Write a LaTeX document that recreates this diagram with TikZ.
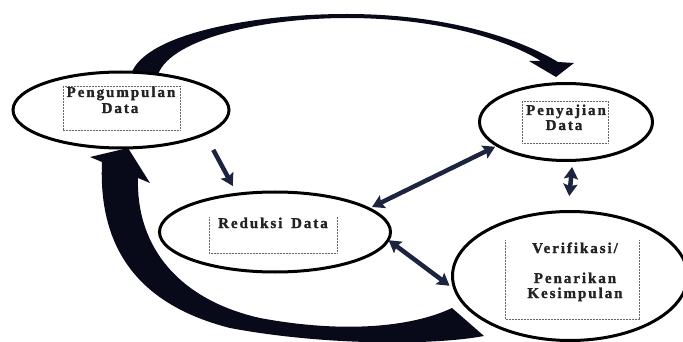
\documentclass[tikz,border=0pt]{standalone}
\usepackage{fontspec}
\newfontfamily\lblfont[LetterSpace=13,FakeBold=1.4]{Liberation Serif Bold}
\usetikzlibrary{arrows.meta,shapes.geometric}
\definecolor{bandc}{RGB}{8,10,25}
\definecolor{arrc}{RGB}{28,36,62}
\definecolor{txtc}{RGB}{35,35,35}
\begin{document}
\begin{tikzpicture}[x=1pt,y=-1pt,
  stage/.style={ellipse,draw=black,line width=3pt,fill=white,inner sep=0pt,outer sep=0pt},
  lbl/.style={font=\lblfont\fontsize{15}{17}\selectfont,text=txtc,inner sep=0pt,anchor=base},
  dotbox/.style={draw=black!60,line width=0.6pt,dash pattern=on 0.6pt off 0.9pt},
  link/.style={draw=arrc,line width=4.5pt,{Stealth[length=12pt,width=14pt,inset=2pt]}-{Stealth[length=12pt,width=14pt,inset=2pt]}},
  linkone/.style={draw=arrc,line width=4.5pt,-{Stealth[length=12pt,width=14pt,inset=2pt]}},
  band/.style={fill=bandc}]
\useasboundingbox (0,0) rectangle (683,342);
% curved block arrows
\fill[band] (130,78) .. controls (138,35) and (250,14) .. (347,14)
  .. controls (440,14) and (515,36) .. (558,62) -- (574,63) -- (556,77) -- (529,61) -- (541,61)
  .. controls (500,36) and (430,18) .. (347,18)
  .. controls (260,18) and (165,40) .. (157,78) -- cycle;
\fill[band] (452,308) -- (484,336) .. controls (430,346) and (320,345) .. (230,328)
  .. controls (140,305) and (98,250) .. (102,162) -- (90,157) -- (128,148) -- (150,183) -- (138,178)
  .. controls (136,248) and (180,300) .. (260,318)
  .. controls (340,333) and (410,328) .. (452,308) -- cycle;
% stages
\node[stage,minimum width=216pt,minimum height=76pt] (A) at (121,110) {};
\node[stage,minimum width=173pt,minimum height=77pt] (B) at (566,122) {};
\node[stage,minimum width=231pt,minimum height=80pt] (C) at (275,232) {};
\node[stage,minimum width=235pt,minimum height=129pt] (D) at (570,276) {};
% dotted text boxes
\draw[dotbox] (63,86) rectangle (180,130);
\draw[dotbox] (522,101) rectangle (608,143);
\draw[dotbox] (209,217) -- (209,253) -- (337,253) -- (337,217);
\draw[dotbox] (505,240) -- (505,319) -- (639,319) -- (639,240);
% labels
\node[lbl] (tA1) at (121,97) {Pengumpulan};
\node[lbl] (tA2) at (120,113) {Data};
\node[lbl] (tB1) at (566,115) {Penyajian};
\node[lbl] (tB2) at (564,130) {Data};
\node[lbl] (tC) at (273,228) {Reduksi\hspace{3pt} Data};
\node[lbl] (tD1) at (575,253) {Verifikasi/};
\node[lbl] (tD2) at (575,283) {Penarikan};
\node[lbl] (tD3) at (575,298) {Kesimpulan};
% straight connectors
\draw[linkone,shorten <=18pt,shorten >=9.3pt] (A.-16.1) -- (C.135.7);
\draw[link,shorten <=3.7pt,shorten >=2.7pt] (C.14.9) -- (B.-161.9);
\draw[link,shorten <=0.5pt,shorten >=7.2pt] (C.-4.5) -- (D.-173.7);
\draw[link,shorten <=6.6pt,shorten >=15.5pt] (B.-80.1) -- (D.92.3);
\end{tikzpicture}
\end{document}
